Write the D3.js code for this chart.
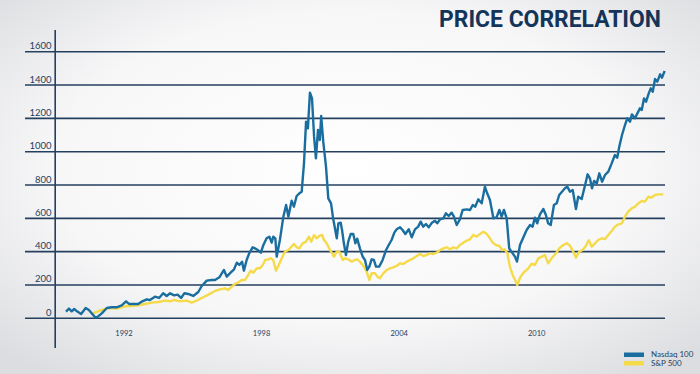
<!DOCTYPE html>
<html>
<head>
<meta charset="utf-8">
<script src="https://cdn.jsdelivr.net/npm/d3@7"></script>
<style>
  html, body { margin: 0; padding: 0; overflow: hidden; }
  body { width: 700px; height: 374px; }
</style>
</head>
<body>
<script>
// values (decimal year, index value)
let nasdaqYears = [1989.47,1989.60,1989.72,1989.83,1989.95,1990.13,1990.33,1990.47,1990.59,1990.74,1990.82,1991.03,1991.25,1991.46,1991.68,1991.90,1992.09,1992.22,1992.45,1992.62,1992.80,1992.99,1993.13,1993.35,1993.53,1993.71,1993.86,1994.01,1994.19,1994.34,1994.49,1994.63,1994.80,1995.02,1995.24,1995.39,1995.61,1995.82,1995.97,1996.16,1996.36,1996.48,1996.65,1996.80,1996.92,1997.03,1997.15,1997.23,1997.35,1997.46,1997.61,1997.71,1997.83,1997.97,1998.08,1998.22,1998.34,1998.44,1998.51,1998.60,1998.66,1998.80,1998.95,1999.07,1999.17,1999.31,1999.41,1999.53,1999.65,1999.75,1999.85,1999.94,2000.02,2000.11,2000.20,2000.29,2000.37,2000.46,2000.54,2000.60,2000.69,2000.81,2000.91,2001.03,2001.12,2001.20,2001.28,2001.35,2001.45,2001.51,2001.59,2001.68,2001.78,2001.89,2002.00,2002.09,2002.17,2002.29,2002.41,2002.51,2002.61,2002.70,2002.80,2002.90,2002.99,2003.13,2003.28,2003.43,2003.57,2003.67,2003.79,2003.89,2004.04,2004.15,2004.27,2004.42,2004.55,2004.69,2004.83,2004.94,2005.05,2005.17,2005.29,2005.43,2005.56,2005.66,2005.78,2005.93,2006.04,2006.16,2006.29,2006.39,2006.51,2006.65,2006.77,2006.95,2007.09,2007.21,2007.32,2007.45,2007.60,2007.74,2007.84,2007.96,2008.11,2008.25,2008.37,2008.47,2008.57,2008.69,2008.80,2008.95,2009.05,2009.14,2009.27,2009.41,2009.56,2009.71,2009.82,2009.92,2010.02,2010.14,2010.29,2010.40,2010.50,2010.61,2010.75,2010.87,2010.98,2011.13,2011.23,2011.33,2011.45,2011.57,2011.71,2011.81,2011.96,2012.11,2012.22,2012.32,2012.41,2012.50,2012.62,2012.73,2012.85,2012.98,2013.12,2013.27,2013.41,2013.51,2013.60,2013.72,2013.85,2013.95,2014.07,2014.15,2014.29,2014.39,2014.50,2014.58,2014.68,2014.77,2014.87,2014.97,2015.06,2015.16,2015.26,2015.38,2015.46,2015.58];
let nasdaqValues = [40,58,42,56,42,26,62,50,30,6,6,30,62,66,66,78,102,86,86,86,102,114,110,130,122,150,134,150,138,142,122,150,146,134,158,194,226,230,230,246,290,250,274,294,334,320,340,286,350,390,426,420,410,394,440,480,490,454,490,480,370,470,610,680,610,706,670,734,750,760,930,1180,1140,1354,1320,1090,960,1130,1070,1214,1060,910,720,690,600,540,480,570,574,530,450,380,460,506,506,450,478,420,370,350,290,310,354,350,310,310,350,410,446,470,514,534,546,530,506,534,486,534,550,580,550,566,546,574,586,570,594,600,630,614,634,610,560,594,650,654,650,680,670,714,690,790,750,710,600,606,650,610,650,600,420,390,370,340,440,484,530,560,550,604,570,624,656,620,570,560,680,690,740,764,780,790,760,770,656,730,716,800,864,840,780,824,810,870,820,860,880,930,980,964,1030,1100,1160,1200,1180,1224,1200,1230,1260,1250,1320,1300,1344,1380,1360,1436,1420,1464,1444,1484];

let spYears = [1990.62,1990.81,1991.03,1991.25,1991.46,1991.68,1991.90,1992.12,1992.34,1992.62,1992.92,1993.21,1993.50,1993.79,1994.01,1994.19,1994.44,1994.73,1994.95,1995.17,1995.39,1995.68,1995.97,1996.19,1996.40,1996.55,1996.70,1996.84,1996.98,1997.13,1997.28,1997.42,1997.53,1997.64,1997.79,1997.93,1998.05,1998.16,1998.29,1998.40,1998.51,1998.63,1998.73,1998.88,1999.02,1999.17,1999.31,1999.41,1999.53,1999.65,1999.79,1999.94,2000.06,2000.17,2000.29,2000.40,2000.52,2000.64,2000.72,2000.84,2000.95,2001.07,2001.16,2001.28,2001.39,2001.54,2001.64,2001.78,2001.93,2002.07,2002.17,2002.29,2002.44,2002.58,2002.70,2002.80,2002.95,2003.05,2003.16,2003.31,2003.46,2003.60,2003.74,2003.89,2004.04,2004.18,2004.33,2004.47,2004.62,2004.77,2004.91,2005.05,2005.20,2005.35,2005.49,2005.64,2005.78,2005.93,2006.07,2006.22,2006.36,2006.51,2006.65,2006.80,2006.95,2007.09,2007.23,2007.38,2007.53,2007.67,2007.79,2007.93,2008.08,2008.22,2008.37,2008.49,2008.60,2008.72,2008.83,2008.95,2009.05,2009.15,2009.29,2009.44,2009.63,2009.78,2009.92,2010.07,2010.22,2010.36,2010.50,2010.65,2010.84,2010.98,2011.16,2011.31,2011.45,2011.59,2011.71,2011.86,2012.00,2012.15,2012.27,2012.40,2012.54,2012.68,2012.83,2012.98,2013.12,2013.27,2013.41,2013.56,2013.71,2013.85,2013.99,2014.14,2014.29,2014.43,2014.58,2014.72,2014.87,2015.01,2015.16,2015.30,2015.52];
let spValues = [30,38,50,58,62,58,66,74,74,78,86,94,98,106,102,110,102,106,94,106,122,142,164,174,180,170,190,206,214,230,230,260,286,274,300,300,320,350,354,360,350,286,314,360,400,410,430,446,426,420,450,460,490,460,500,480,494,500,470,450,420,390,370,400,400,350,360,354,340,350,354,340,314,280,230,270,270,250,240,270,290,300,306,314,330,326,340,350,360,374,386,374,380,390,386,394,410,420,426,414,426,420,440,454,466,474,500,490,506,520,510,486,454,440,434,410,414,390,310,260,232,200,248,276,300,328,320,360,370,380,330,360,390,420,440,450,436,400,364,400,410,436,468,430,450,470,480,476,500,524,550,564,570,610,640,660,670,690,704,700,730,724,740,744,744];

let yTicks = [0, 200, 400, 600, 800, 1000, 1200, 1400, 1600];
let xTicks = [1992, 1998, 2004, 2010];
let seriesNames = ["Nasdaq 100", "S&P 500"];
let seriesColors = ["#1a6e9f", "#f5da4a"];

let width = 700, height = 374;
let navy = "#24405f";

let svg = d3.select("body").append("svg")
    .attr("width", width)
    .attr("height", height);

// soft grey vignette behind everything
let defs = svg.append("defs");
let grad = defs.append("radialGradient")
    .attr("id", "bg")
    .attr("cx", "50%").attr("cy", "45%").attr("r", "70%");
grad.append("stop").attr("offset", "0%").attr("stop-color", "#ffffff");
grad.append("stop").attr("offset", "60%").attr("stop-color", "#f7f7f8");
grad.append("stop").attr("offset", "100%").attr("stop-color", "#dcdde0");
svg.append("rect").attr("width", width).attr("height", height).attr("fill", "url(#bg)");

let x = d3.scaleLinear().domain([1989, 2016]).range([55.2, 674.3]);
let y = d3.scaleLinear().domain([0, 1600]).range([318.3, 51.7]);

// horizontal grid lines with labels above them
let grid = svg.append("g");
grid.selectAll("line")
    .data(yTicks)
    .enter()
    .append("line")
        .attr("x1", 25)
        .attr("x2", 665)
        .attr("y1", (d) => y(d))
        .attr("y2", (d) => y(d))
        .style("stroke", navy)
        .style("stroke-width", 1.6);

grid.selectAll("text")
    .data(yTicks)
    .enter()
    .append("text")
        .attr("x", 51.5)
        .attr("y", (d) => y(d) - 2.5)
        .attr("text-anchor", "end")
        .style("font-family", "Lato")
        .style("font-size", "9.5px")
        .style("fill", navy)
        .text((d) => d);

// vertical axis line
svg.append("line")
    .attr("x1", x(1989)).attr("x2", x(1989))
    .attr("y1", 30).attr("y2", 348)
    .style("stroke", navy)
    .style("stroke-width", 1.6);

// year labels under the chart
svg.append("g").selectAll("text")
    .data(xTicks)
    .enter()
    .append("text")
        .attr("x", (d) => x(d))
        .attr("y", 335.5)
        .attr("text-anchor", "middle")
        .style("font-family", "Lato")
        .style("font-size", "7.5px")
        .style("fill", navy)
        .text((d) => d);

let line = d3.line()
    .x((d) => x(d[0]))
    .y((d) => y(d[1]));

let spData = d3.zip(spYears, spValues);
let nasdaqData = d3.zip(nasdaqYears, nasdaqValues);

svg.append("path")
    .datum(spData)
    .attr("d", line)
    .style("fill", "none")
    .style("stroke", seriesColors[1])
    .style("stroke-width", 2.4)
    .style("stroke-linejoin", "round");

svg.append("path")
    .datum(nasdaqData)
    .attr("d", line)
    .style("fill", "none")
    .style("stroke", seriesColors[0])
    .style("stroke-width", 2.4)
    .style("stroke-linejoin", "round");

// title
svg.append("text")
    .attr("x", 661)
    .attr("y", 26.5)
    .attr("text-anchor", "end")
    .attr("textLength", 222)
    .attr("lengthAdjust", "spacingAndGlyphs")
    .style("font-family", "Roboto")
    .style("font-weight", 700)
    .style("font-size", "23px")
    .style("fill", "#143459")
    .text("PRICE CORRELATION");

// legend
let legend = svg.append("g").selectAll("g")
    .data(seriesNames)
    .enter()
    .append("g")
        .attr("transform", (d, i) => "translate(624," + (352.5 + i * 8.5) + ")");

legend.append("rect")
    .attr("width", 20)
    .attr("height", 4.5)
    .style("fill", (d, i) => seriesColors[i]);

legend.append("text")
    .attr("x", 27)
    .attr("y", 4.8)
    .style("font-family", "Lato")
    .style("font-size", "8px")
    .style("fill", navy)
    .text((d) => d);
</script>
</body>
</html>
